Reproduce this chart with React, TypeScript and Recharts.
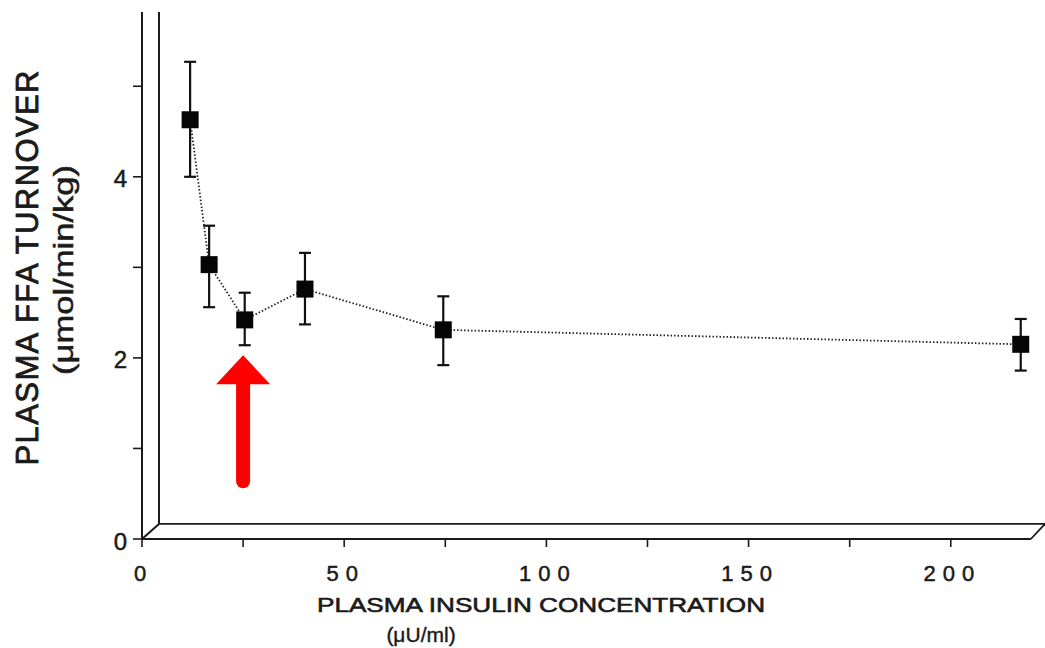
import React from "react";
import {
  LineChart,
  Line,
  XAxis,
  YAxis,
  ErrorBar,
  ReferenceLine,
  ReferenceDot,
} from "recharts";

// ---- data ----
const insulin = [11.9, 16.6, 25.4, 40.3, 74.5, 217.3];
const ffaTurnover = [4.63, 3.03, 2.42, 2.76, 2.31, 2.15];
const errLow = [0.63, 0.47, 0.28, 0.39, 0.39, 0.29];
const errHigh = [0.64, 0.43, 0.3, 0.4, 0.37, 0.28];

const xTicks = [0, 25, 50, 75, 100, 125, 150, 175, 200];
const xLabelEvery = 50;
const yTicks = [0, 1, 2, 3, 4, 5];
const yLabelEvery = 2;

const xMax = 223.3;
const yMax = 5.82;
const xFrontEnd = 219.8;
const depthX = 4.2;
const depthY = 0.166;

const arrowX = 25;
const arrowTipY = 2.03;

const xTitle = "PLASMA INSULIN CONCENTRATION";
const xUnit = "(μU/ml)";
const yTitle = "PLASMA FFA TURNOVER";
const yUnit = "(μmol/min/kg)";

const data = insulin.map((x, i) => ({
  x,
  y: ffaTurnover[i],
  err: [errLow[i], errHigh[i]],
}));

const FONT = "'Liberation Sans', Arial, Helvetica, sans-serif";
const INK = "#1a1a1a";

const SquareDot = (props: any) => {
  const { cx, cy } = props;
  if (cx == null || cy == null) return null;
  const s = 17;
  return <rect x={cx - s / 2} y={cy - s / 2} width={s} height={s} fill="#050505" />;
};

const XTick = (props: any) => {
  const { x, y, payload } = props;
  const v = payload.value;
  if (v % xLabelEvery !== 0) return null;
  const ls = 7;
  return (
    <text
      x={x + ls / 2 - 2}
      y={y}
      dy="0.71em"
      textAnchor="middle"
      fontFamily={FONT}
      fontSize={22}
      letterSpacing={ls}
      fill={INK}
      stroke={INK}
      strokeWidth={0.5}
    >
      {String(v)}
    </text>
  );
};

const YTick = (props: any) => {
  const { x, y, payload } = props;
  const v = payload.value;
  if (v % yLabelEvery !== 0) return null;
  return (
    <text
      x={x}
      y={y + 2}
      dy="0.355em"
      textAnchor="end"
      fontFamily={FONT}
      fontSize={24}
      fill={INK}
      stroke={INK}
      strokeWidth={0.5}
    >
      {String(v)}
    </text>
  );
};

const ArrowShape = (props: any) => {
  const { cx, cy } = props;
  if (cx == null || cy == null) return null;
  return (
    <g>
      <line x1={cx} y1={cy + 25} x2={cx} y2={cy + 126} stroke="#ff0000" strokeWidth={14} strokeLinecap="round" />
      <polygon points={`${cx},${cy} ${cx - 27},${cy + 29} ${cx + 27},${cy + 29}`} fill="#ff0000" />
    </g>
  );
};

export default function App() {
  return (
    <div style={{ position: "absolute", left: 0, top: 0, width: 1045, height: 648, background: "#fff" }}>
      <LineChart
        width={1045}
        height={648}
        data={data}
        margin={{ top: 12, right: 0, bottom: 0, left: 0 }}
      >
        <XAxis
          dataKey="x"
          type="number"
          domain={[0, xMax]}
          allowDataOverflow
          ticks={xTicks}
          interval={0}
          height={109}
          axisLine={false}
          tickSize={8}
          tickMargin={18}
          tickLine={{ stroke: INK, strokeWidth: 1.6 }}
          tick={<XTick />}
        />
        <YAxis
          type="number"
          domain={[0, yMax]}
          allowDataOverflow
          ticks={yTicks}
          interval={0}
          width={142}
          axisLine={false}
          tickSize={9}
          tickMargin={6}
          tickLine={{ stroke: INK, strokeWidth: 1.6 }}
          tick={<YTick />}
        />

        {/* 3D frame */}
        <ReferenceLine segment={[{ x: 0, y: 0 }, { x: 0, y: yMax }]} stroke={INK} strokeWidth={2} />
        <ReferenceLine segment={[{ x: 0, y: 0 }, { x: xFrontEnd, y: 0 }]} stroke={INK} strokeWidth={2} />
        <ReferenceLine segment={[{ x: depthX, y: depthY }, { x: depthX, y: yMax }]} stroke={INK} strokeWidth={2} />
        <ReferenceLine segment={[{ x: depthX, y: depthY }, { x: xMax, y: depthY }]} stroke={INK} strokeWidth={1.8} />
        <ReferenceLine segment={[{ x: 0, y: 0 }, { x: depthX, y: depthY }]} stroke={INK} strokeWidth={2} />
        <ReferenceLine segment={[{ x: xFrontEnd, y: 0 }, { x: xMax, y: depthY }]} stroke={INK} strokeWidth={1.8} />

        <Line
          dataKey="y"
          stroke="#222"
          strokeWidth={1.8}
          strokeDasharray="1.5 2"
          dot={<SquareDot />}
          activeDot={false}
          isAnimationActive={false}
        >
          <ErrorBar dataKey="err" width={6} stroke="#111" strokeWidth={2.2} direction="y" />
        </Line>

        <ReferenceDot x={arrowX} y={arrowTipY} shape={<ArrowShape />} />

        <text
          x={27}
          y={268}
          transform="rotate(-90 27 268)"
          textAnchor="middle"
          dominantBaseline="central"
          fontFamily={FONT}
          fontSize={31}
          textLength={395}
          lengthAdjust="spacing"
          fill={INK}
          stroke={INK}
          strokeWidth={0.8}
        >
          {yTitle}
        </text>
        <text
          x={64}
          y={270}
          transform="rotate(-90 64 270)"
          textAnchor="middle"
          dominantBaseline="central"
          fontFamily={FONT}
          fontSize={27}
          textLength={210}
          lengthAdjust="spacingAndGlyphs"
          fill={INK}
          stroke={INK}
          strokeWidth={0.5}
        >
          {yUnit}
        </text>
        <text
          x={541}
          y={612}
          textAnchor="middle"
          fontFamily={FONT}
          fontSize={21}
          textLength={448}
          lengthAdjust="spacingAndGlyphs"
          fill={INK}
          stroke={INK}
          strokeWidth={0.6}
        >
          {xTitle}
        </text>
        <text
          x={421}
          y={642}
          textAnchor="middle"
          fontFamily={FONT}
          fontSize={21}
          fill={INK}
          stroke={INK}
          strokeWidth={0.4}
        >
          {xUnit}
        </text>
      </LineChart>
    </div>
  );
}
